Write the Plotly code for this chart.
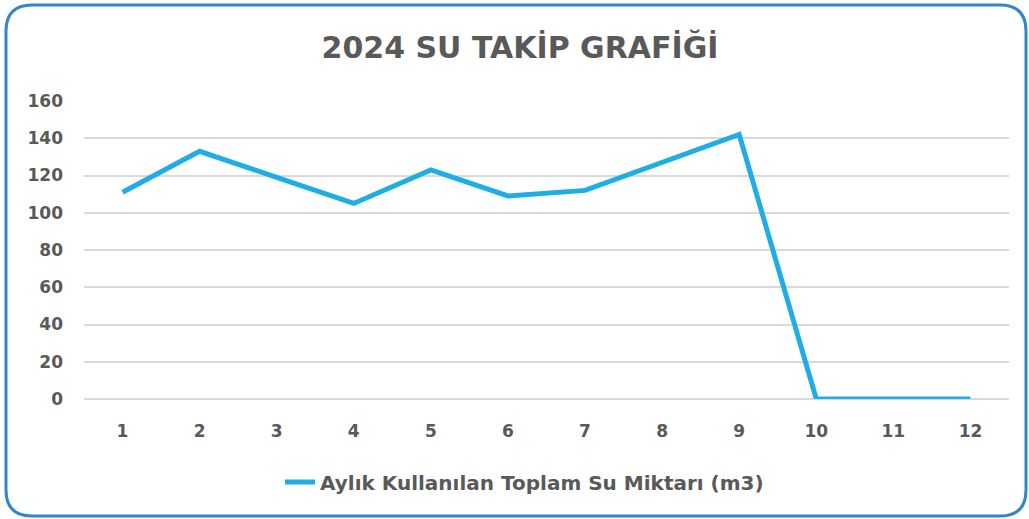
import plotly.graph_objects as go

months = ["1", "2", "3", "4", "5", "6", "7", "8", "9", "10", "11", "12"]
water_m3 = [111, 133, 119, 105, 123, 109, 112, 127, 142, 0, 0, 0]
series_name = "Aylık Kullanılan Toplam Su Miktarı (m3)"
title_text = "2024 SU TAKİP GRAFİĞİ"
y_ticks = [0, 20, 40, 60, 80, 100, 120, 140, 160]

W, H = 1029, 519
ML, MR, MT, MB = 84, 20, 101, 120
pw, ph = W - ML - MR, H - MT - MB

def px(x):
    return (x - ML) / pw

def py(y):
    return (H - MB - y) / ph

# rounded border path in paper coords
l, t, r, b, rad = 6, 5, 1026, 516, 26
path = (
    f"M {px(l+rad)},{py(t)} L {px(r-rad)},{py(t)} "
    f"Q {px(r)},{py(t)} {px(r)},{py(t+rad)} "
    f"L {px(r)},{py(b-rad)} Q {px(r)},{py(b)} {px(r-rad)},{py(b)} "
    f"L {px(l+rad)},{py(b)} Q {px(l)},{py(b)} {px(l)},{py(b-rad)} "
    f"L {px(l)},{py(t+rad)} Q {px(l)},{py(t)} {px(l+rad)},{py(t)} Z"
)

font_family = "DejaVu Sans"
gray = "#595959"

fig = go.Figure()
fig.add_trace(go.Scatter(
    x=months, y=water_m3, mode="lines", name=series_name,
    line=dict(color="#1FAEE4", width=5),
))

fig.update_layout(
    width=W, height=H,
    margin=dict(l=ML, r=MR, t=MT, b=MB),
    paper_bgcolor="white", plot_bgcolor="white",
    title=dict(text=f"<b>{title_text}</b>", x=520 / W, xref="container", xanchor="center",
               y=(H - 47) / H, yanchor="middle", yref="container",
               font=dict(family=font_family, size=30, color=gray)),
    showlegend=True,
    legend=dict(orientation="h", x=0.5 - 22 / pw, xanchor="center",
                y=-(482 - (H - MB)) / ph, yanchor="middle",
                font=dict(family=font_family, size=20, color=gray, weight="bold")),
    font=dict(family=font_family, color=gray),
    shapes=[dict(type="path", xref="paper", yref="paper", path=path,
                 line=dict(color="#2F86CA", width=3), layer="above")],
)
fig.update_xaxes(type="category", range=[-0.5, 11.5], showgrid=False, showline=False,
                 ticks="", tickfont=dict(family=font_family, size=17, color=gray, weight="bold"),
                 ticklabelstandoff=20, fixedrange=True)
fig.update_yaxes(range=[0, 160], tickvals=y_ticks, showgrid=True, gridcolor="#D9D9D9",
                 gridwidth=1.5, zeroline=True, zerolinecolor="#D9D9D9", zerolinewidth=1.5,
                 showline=False, ticks="",
                 tickfont=dict(family=font_family, size=17, color=gray, weight="bold"),
                 ticklabelstandoff=20, fixedrange=True)

fig.write_html("out.html", config={"displayModeBar": False},
               post_script="document.body.style.margin='0';document.body.style.overflow='hidden';")
